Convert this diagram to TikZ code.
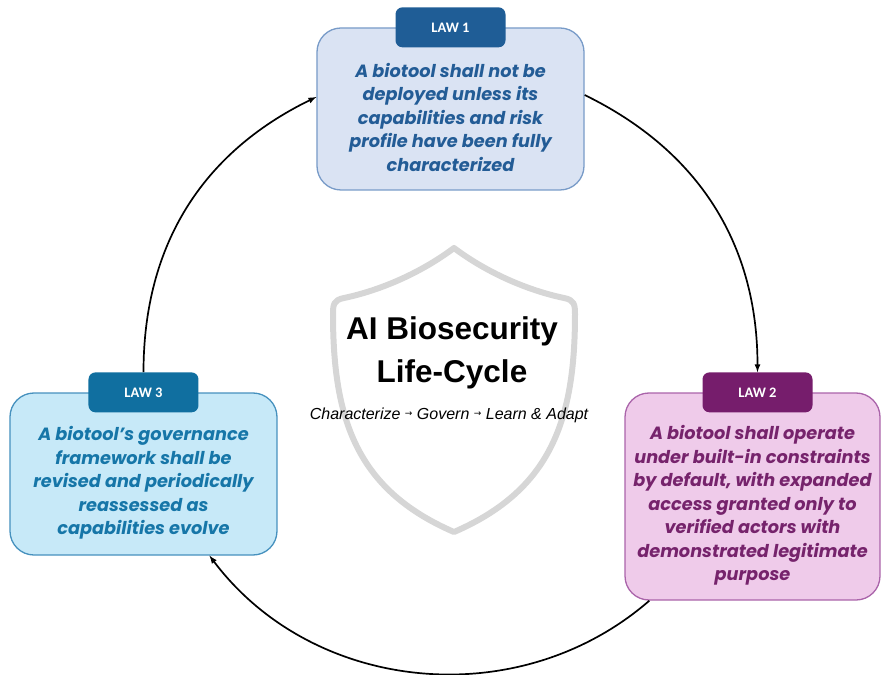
\documentclass[tikz,border=0pt]{standalone}
\usepackage{fontspec}
\setmainfont{Liberation Sans}
\newfontfamily\lawfont{Poppins}
\newfontfamily\headfont{Carlito}
\newfontfamily\arrowfont{DejaVu Sans}

\definecolor{onefill}{RGB}{218,227,243}
\definecolor{onedraw}{RGB}{120,155,200}
\definecolor{onehead}{RGB}{31,93,150}
\definecolor{onetext}{RGB}{35,92,150}
\definecolor{twofill}{RGB}{239,203,234}
\definecolor{twodraw}{RGB}{170,100,170}
\definecolor{twohead}{RGB}{118,29,108}
\definecolor{twotext}{RGB}{118,35,108}
\definecolor{threefill}{RGB}{199,233,248}
\definecolor{threedraw}{RGB}{70,145,190}
\definecolor{threehead}{RGB}{16,111,160}
\definecolor{threetext}{RGB}{22,118,168}
\definecolor{shieldgray}{RGB}{214,214,214}

\newcommand{\sarrow}{\raisebox{2.5pt}{\arrowfont\fontsize{9}{9}\selectfont →}}

\begin{document}
\begin{tikzpicture}[x=1pt, y=1pt]
    \tikzstyle{every node}=[font=\lawfont\bfseries\itshape\fontsize{17.7}{23.5}\selectfont, align=center]
    \tikzset{
        law/.style={draw, line width=1.3pt, rounded corners=24pt, minimum width=267pt, minimum height=162pt},
        head/.style={rounded corners=7pt, minimum width=110pt, minimum height=40pt, text=white, font=\headfont\bfseries\fontsize{14.5}{17}\selectfont},
        cycle/.style={line width=1.7pt, -latex}
        }
    \useasboundingbox (-452,-304) rectangle (430,370);

    %shield
    \draw[shieldgray, line width=6pt, line join=round]
        (2,122) .. controls (-30,98) and (-70,80) .. (-108,72)
        .. controls (-118,70) and (-119,66) .. (-119,56)
        .. controls (-119,-50) and (-95,-120) .. (2,-162)
        .. controls (99,-120) and (123,-50) .. (123,56)
        .. controls (123,66) and (122,70) .. (112,72)
        .. controls (74,80) and (34,98) .. (2,122) -- cycle;

    %title
    \node (title) at (0,17) [font=\bfseries\fontsize{31.5}{43}\selectfont] {AI Biosecurity\\Life-Cycle};
    \node (steps) at (-3,-45) [font=\itshape\fontsize{16}{18}\selectfont] {Characterize \sarrow{} Govern \sarrow{} Learn \& Adapt};

    %law 1
    \node (law1) [law, draw=onedraw, fill=onefill] at (-1.5,261) {};
    \node (law1h) [head, fill=onehead] at (law1.north) {LAW 1};
    \node (law1t) [text=onetext] at ([yshift=-8pt]law1.center) {A biotool shall not be\\deployed unless its\\capabilities and risk\\profile have been fully\\characterized};

    %law 2
    \node (law2) [law, draw=twodraw, fill=twofill, minimum width=255pt, minimum height=207pt] at (300.5,-126.5) {};
    \node (law2h) [head, fill=twohead] at ([xshift=5pt]law2.north) {LAW 2};
    \node (law2t) [text=twotext] at ([yshift=-9pt]law2.center) {A biotool shall operate\\under built-in constraints\\by default, with expanded\\access granted only to\\verified actors with\\demonstrated legitimate\\purpose};

    %law 3
    \node (law3) [law, draw=threedraw, fill=threefill] at (-308.5,-104) {};
    \node (law3h) [head, fill=threehead] at (law3.north) {LAW 3};
    \node (law3t) [text=threetext] at ([yshift=-9pt]law3.center) {A biotool’s governance\\framework shall be\\revised and periodically\\reassessed as\\capabilities evolve};

    % cycle
    \draw [cycle] (law3h.north) to [out=90, in=206] ([yshift=12pt]law1.west);
    \draw [cycle] ([yshift=14pt]law1.east) to [out=-26, in=90] (law2h.north);
    \draw [cycle] ([xshift=25pt]law2.south west) to [out=-139, in=-53] ([xshift=66pt]law3.south);
\end{tikzpicture}
\end{document}
